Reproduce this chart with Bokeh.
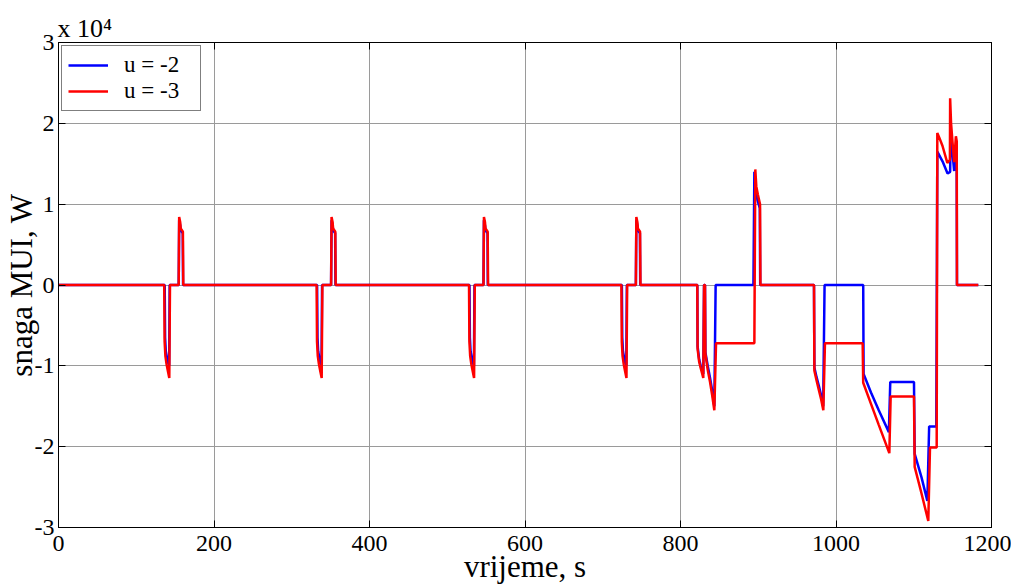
from bokeh.plotting import figure
from bokeh.models import (Range1d, FixedTicker, LinearAxis, Legend, LegendItem, Title)
from bokeh.embed import file_html
from bokeh.resources import INLINE

FONT = "Liberation Serif"

# ---------------- data (power in units of 10^4 W) ----------------
x_ticks = [0, 200, 400, 600, 800, 1000, 1200]
y_ticks = [-3, -2, -1, 0, 1, 2, 3]
y_tick_labels = ["-3", "-2", "-1", "0", "1", "2", "3"]

red_t = [0, 136, 136.5, 137.5, 139, 141, 142.5, 143.4, 154.6, 155.2, 156.5, 157.2, 160.0, 160.5,
         332, 332.5, 333.5, 335, 337, 338.5, 339.4, 350.6, 351.2, 352.5, 353.2, 356.0, 356.5,
         528, 528.5, 529.5, 531, 533, 534.5, 535.4, 546.6, 547.2, 548.5, 549.2, 552.0, 552.5,
         724, 724.5, 725.5, 727, 729, 730.5, 731.4, 742.6, 743.2, 744.5, 745.2, 748.0, 748.5,
         821.6, 822, 824, 826, 828, 829.3, 830.3, 831.5, 832, 835, 838, 841, 843.5, 845.7,
         895, 896.2, 897.5, 899.5, 902.3, 902.8,
         971.7, 972.2, 975, 978, 981, 983.7, 985.8, 1034.3, 1035, 1045, 1055, 1068.6, 1070.3,
         1100.3, 1101.2, 1110, 1118.7, 1120.9, 1129.5, 1130.3, 1133, 1137, 1143.2, 1146.5,
         1146.8, 1148, 1150, 1152, 1154.2, 1155.3, 1155.6, 1183]
red_v = [0, 0, -0.7, -0.88, -0.98, -1.08, -1.15, 0, 0, 0.84, 0.78, 0.70, 0.66, 0,
         0, -0.7, -0.88, -0.98, -1.08, -1.15, 0, 0, 0.84, 0.78, 0.70, 0.66, 0,
         0, -0.7, -0.88, -0.98, -1.08, -1.15, 0, 0, 0.84, 0.78, 0.70, 0.66, 0,
         0, -0.7, -0.88, -0.98, -1.08, -1.15, 0, 0, 0.84, 0.78, 0.70, 0.66, 0,
         0, -0.79, -0.95, -1.03, -1.10, -1.15, 0, 0, -0.85, -1.05, -1.2, -1.38, -1.55, -0.72,
         -0.72, 1.43, 1.22, 1.12, 1.0, 0,
         0, -1.06, -1.18, -1.3, -1.42, -1.55, -0.72, -0.72, -1.21, -1.47, -1.73, -2.08, -1.38,
         -1.38, -2.25, -2.58, -2.92, -2.01, -2.01, 1.88, 1.82, 1.72, 1.51, 1.55,
         2.31, 2.0, 1.75, 1.52, 1.84, 1.78, 0, 0]

blue_t = [0, 136.6, 137.1, 138, 139.5, 141, 142.3, 143.0, 154.6, 155.2, 156.5, 157.2, 159.8, 160.2,
          332.6, 333.1, 334, 335.5, 337, 338.3, 339.0, 350.6, 351.2, 352.5, 353.2, 355.8, 356.2,
          528.6, 529.1, 530, 531.5, 533, 534.3, 535.0, 546.6, 547.2, 548.5, 549.2, 551.8, 552.2,
          724.6, 725.1, 726, 727.5, 729, 730.3, 731.0, 742.6, 743.2, 744.5, 745.2, 747.8, 748.2,
          821.6, 822, 824, 826, 828, 829.3, 830.3, 831.5, 832, 835, 838, 841, 843.5, 845.2,
          893.8, 895, 896.5, 899, 902, 902.5,
          971.7, 972.2, 975, 978, 981, 983.5, 985.3, 1035, 1035.5, 1045, 1055, 1068, 1069.8,
          1100.3, 1101.2, 1110, 1117.5, 1119.8, 1129, 1130.3, 1137, 1143.5, 1146.8,
          1147.5, 1150, 1152, 1154.2, 1155.2, 1155.6, 1183]
blue_v = [0, 0, -0.65, -0.82, -0.9, -0.96, -1.0, 0, 0, 0.80, 0.74, 0.68, 0.64, 0,
          0, -0.65, -0.82, -0.9, -0.96, -1.0, 0, 0, 0.80, 0.74, 0.68, 0.64, 0,
          0, -0.65, -0.82, -0.9, -0.96, -1.0, 0, 0, 0.80, 0.74, 0.68, 0.64, 0,
          0, -0.65, -0.82, -0.9, -0.96, -1.0, 0, 0, 0.80, 0.74, 0.68, 0.64, 0,
          0, -0.76, -0.92, -1.0, -1.06, -1.1, 0, 0, -0.83, -1.0, -1.15, -1.32, -1.5, 0,
          0, 1.40, 1.18, 1.05, 0.95, 0,
          0, -1.02, -1.14, -1.25, -1.37, -1.5, 0, 0, -1.10, -1.33, -1.55, -1.82, -1.20,
          -1.20, -2.09, -2.38, -2.67, -1.75, -1.75, 1.65, 1.53, 1.38, 1.40,
          1.93, 1.62, 1.41, 1.72, 1.65, 0, 0]

labels = ["u = -2", "u = -3"]
colors = ["#0000FF", "#FF0000"]

# ---------------- figure ----------------
p = figure(frame_width=933, frame_height=485,
           min_border_left=58, min_border_right=20, min_border_top=42, min_border_bottom=61,
           x_range=Range1d(0, 1200), y_range=Range1d(-3, 3),
           output_backend="svg", toolbar_location=None,
           background_fill_color="white", border_fill_color="white")

p.title = Title(text="x 10\u2074", align="left", text_font=FONT, text_font_size="26px",
                text_font_style="normal", text_color="black", offset=-1, standoff=0)

p.outline_line_color = "black"
p.outline_line_width = 1

lb = p.line(blue_t, blue_v, line_color=colors[0], line_width=2.5)
lr = p.line(red_t, red_v, line_color=colors[1], line_width=2.5)

for ax in (p.xaxis[0], p.yaxis[0]):
    ax.major_label_text_font = FONT
    ax.major_label_text_font_size = "24px"
    ax.major_label_text_color = "black"
    ax.axis_label_text_font = FONT
    ax.axis_label_text_font_size = "31px"
    ax.axis_label_text_font_style = "normal"
    ax.axis_label_text_color = "black"
    ax.major_tick_in = 7
    ax.major_tick_out = 0
    ax.minor_tick_line_color = None
    ax.axis_line_color = "black"
    ax.major_tick_line_color = "black"

p.xaxis[0].ticker = FixedTicker(ticks=x_ticks)
p.yaxis[0].ticker = FixedTicker(ticks=y_ticks)
p.yaxis[0].major_label_overrides = {t: s for t, s in zip(y_ticks, y_tick_labels)}
p.xaxis[0].axis_label = "vrijeme, s"
p.yaxis[0].axis_label = "snaga MUI, W"
p.xaxis[0].major_label_standoff = 8
p.xaxis[0].axis_label_standoff = -5
p.yaxis[0].major_label_standoff = 4
p.yaxis[0].axis_label_standoff = -7

# mirrored tick axes (top / right), no labels
top = LinearAxis(ticker=FixedTicker(ticks=x_ticks),
                 major_label_overrides={t: "" for t in x_ticks},
                 major_label_standoff=0,
                 major_tick_in=7, major_tick_out=0, minor_tick_line_color=None,
                 axis_line_color="black", major_tick_line_color="black")
right = LinearAxis(ticker=FixedTicker(ticks=y_ticks),
                   major_label_overrides={t: "" for t in y_ticks},
                   major_label_standoff=0,
                   major_tick_in=7, major_tick_out=0, minor_tick_line_color=None,
                   axis_line_color="black", major_tick_line_color="black")
p.add_layout(top, "above")
p.add_layout(right, "right")

p.grid.grid_line_color = "#9a9a9a"
p.grid.grid_line_width = 1
p.xgrid.ticker = FixedTicker(ticks=x_ticks)
p.ygrid.ticker = FixedTicker(ticks=y_ticks)

legend = Legend(items=[LegendItem(label=labels[0], renderers=[lb]),
                       LegendItem(label=labels[1], renderers=[lr])],
                location="top_left")
legend.margin = 3
legend.padding = 6
legend.spacing = 0
legend.glyph_width = 40
legend.glyph_height = 24
legend.label_height = 24
legend.label_width = 70
legend.label_standoff = 16
legend.label_text_font = FONT
legend.label_text_font_size = "23px"
legend.label_text_color = "black"
legend.border_line_color = "black"
legend.border_line_width = 1
legend.background_fill_alpha = 1
p.add_layout(legend)

open("out.html", "w").write(file_html(p, INLINE))
